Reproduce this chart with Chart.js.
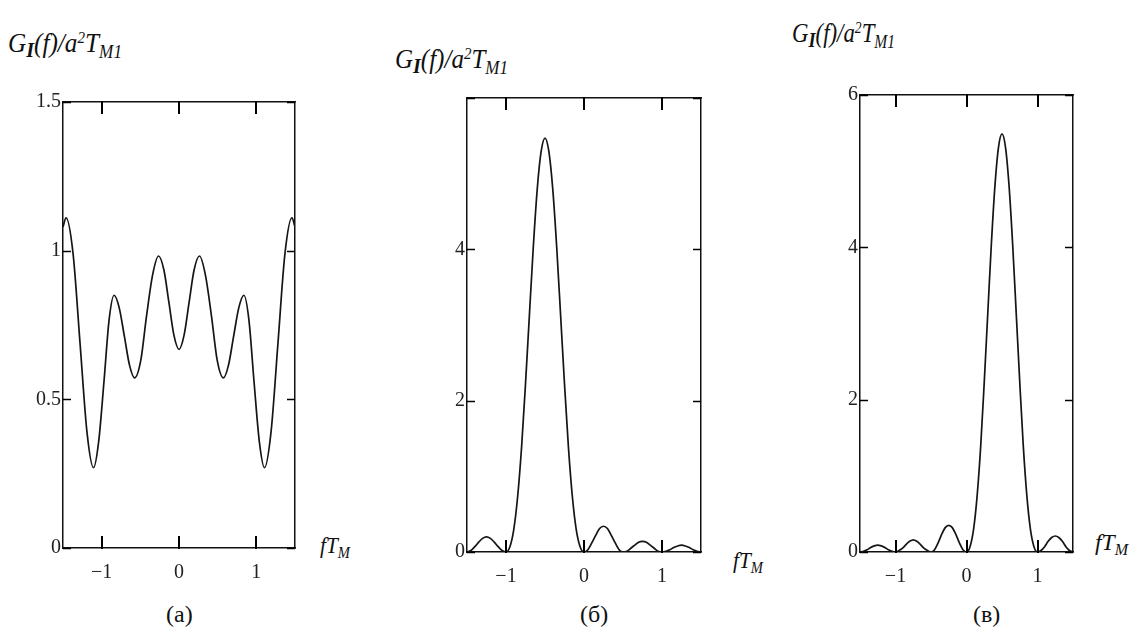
<!DOCTYPE html>
<html><head><meta charset="utf-8">
<script src="https://cdn.jsdelivr.net/npm/chart.js@4.4.0/dist/chart.umd.min.js"></script>
<style>
body{margin:0;background:#fff;width:1136px;height:627px;position:relative;overflow:hidden;font-family:'Liberation Serif','Times New Roman',serif;color:#111;}
canvas{position:absolute;}
.t{position:absolute;white-space:nowrap;line-height:1;transform-origin:0 0;}
.title{font-style:italic;font-size:27px;}
.sub{font-size:0.68em;position:relative;top:0.3em;}
.subI{font-size:0.8em;position:relative;top:0.25em;font-weight:bold;}
.sup{font-size:0.6em;position:relative;top:-0.55em;}
.ax{font-style:italic;font-size:24px;}
.cap{font-size:24px;}
</style>
</head><body>
<div class="t title" data-w="114" style="left:8px;top:30px">G<span class="subI">I</span>(f)/a<span class="sup">2</span>T<span class="sub">M1</span></div>
<div class="t title" data-w="113" style="left:395px;top:46px">G<span class="subI">I</span>(f)/a<span class="sup">2</span>T<span class="sub">M1</span></div>
<div class="t title" data-w="103" style="left:792px;top:20px">G<span class="subI">I</span>(f)/a<span class="sup">2</span>T<span class="sub">M1</span></div>
<div class="t ax" data-w="30" style="left:320px;top:533px">fT<span class="sub">M</span></div>
<div class="t ax" data-w="30" style="left:733px;top:548px">fT<span class="sub">M</span></div>
<div class="t ax" data-w="33" style="left:1095px;top:530px">fT<span class="sub">M</span></div>
<div class="t cap" style="left:166px;top:602px">(a)</div>
<div class="t cap" style="left:580px;top:602px">(б)</div>
<div class="t cap" style="left:973px;top:602px">(в)</div>
<canvas id="cA"></canvas>
<canvas id="cB"></canvas>
<canvas id="cV"></canvas>
<script>
// ---- data ----
const fA = [-1.5, -1.46, -1.37, -1.28, -1.19, -1.105, -1.04, -0.97, -0.905, -0.84, -0.775, -0.705, -0.64, -0.575, -0.495, -0.42, -0.34, -0.265, -0.195, -0.13, -0.065, 0, 0.065, 0.13, 0.195, 0.265, 0.34, 0.42, 0.495, 0.575, 0.64, 0.705, 0.775, 0.84, 0.905, 0.97, 1.04, 1.105, 1.19, 1.28, 1.37, 1.46, 1.5];
const gA = [1.08, 1.11, 0.99, 0.69, 0.39, 0.27, 0.355, 0.56, 0.765, 0.85, 0.81, 0.71, 0.615, 0.572, 0.63, 0.78, 0.92, 0.982, 0.935, 0.825, 0.715, 0.668, 0.715, 0.825, 0.935, 0.982, 0.92, 0.78, 0.63, 0.572, 0.615, 0.71, 0.81, 0.85, 0.765, 0.56, 0.355, 0.27, 0.39, 0.69, 0.99, 1.11, 1.08];

const fBV = [-1.5, -1.45, -1.4, -1.35, -1.3, -1.25, -1.2, -1.15, -1.1, -1.05, -1.0, -0.95, -0.9, -0.85, -0.8, -0.75, -0.7, -0.65, -0.6, -0.55, -0.5, -0.45, -0.4, -0.35, -0.3, -0.25, -0.2, -0.15, -0.1, -0.05, 0, 0.05, 0.1, 0.15, 0.2, 0.25, 0.3, 0.35, 0.4, 0.45, 0.5, 0.55, 0.6, 0.65, 0.7, 0.75, 0.8, 0.85, 0.9, 0.95, 1.0, 1.05, 1.1, 1.15, 1.2, 1.25, 1.3, 1.35, 1.4, 1.45, 1.5];
const gB = [0, 0.02, 0.07, 0.13, 0.18, 0.20, 0.18, 0.13, 0.07, 0.02, 0, 0.07, 0.30, 0.74, 1.39, 2.22, 3.13, 4.03, 4.79, 5.29, 5.47, 5.29, 4.79, 4.03, 3.13, 2.22, 1.39, 0.74, 0.30, 0.07, 0, 0.03, 0.12, 0.22, 0.31, 0.34, 0.31, 0.22, 0.12, 0.03, 0, 0.01, 0.05, 0.09, 0.13, 0.14, 0.13, 0.09, 0.05, 0.01, 0, 0.01, 0.03, 0.06, 0.08, 0.09, 0.08, 0.06, 0.03, 0.01, 0];
const gV = [0, 0.01, 0.03, 0.06, 0.08, 0.09, 0.08, 0.06, 0.03, 0.01, 0, 0.02, 0.05, 0.10, 0.14, 0.16, 0.14, 0.10, 0.05, 0.02, 0, 0.03, 0.12, 0.23, 0.32, 0.35, 0.32, 0.23, 0.12, 0.03, 0, 0.07, 0.30, 0.74, 1.39, 2.23, 3.14, 4.04, 4.80, 5.31, 5.49, 5.31, 4.80, 4.04, 3.14, 2.23, 1.39, 0.74, 0.30, 0.07, 0, 0.02, 0.07, 0.14, 0.19, 0.21, 0.19, 0.14, 0.07, 0.02, 0];

const xRange = [-1.5, 1.5];
const xTicks = [-1, 0, 1];
const xTickLabels = ['\u22121', '0', '1'];
const yRangeA = [0, 1.5];
const yTicksA = [0, 0.5, 1, 1.5];
const yLabelsA = ['0', '0.5', '1', '1.5'];
const yRangeBV = [0, 6];
const yTicksBV = [0, 2, 4, 6];
const yLabelsB = ['0', '2', '4', ''];
const yLabelsV = ['0', '2', '4', '6'];

// ---- layout ----
const PADL = 70, PADR = 40, PADT = 25, PADB = 50;
const XTICKLEN = 12, YTICKLEN = 8;

function fixed(prop, v) { return function (s) { s[prop] = v; }; }
function setTicks(vals) { return function (s) { s.ticks = vals.map(v => ({ value: v })); }; }

// inward tick marks on all four sides, placed through the chart's own scales
const inwardTicks = {
  id: 'inwardTicks',
  afterDraw(chart) {
    const ctx = chart.ctx, a = chart.chartArea;
    const sx = chart.scales.x, sy = chart.scales.y;
    ctx.save();
    ctx.strokeStyle = '#000';
    ctx.lineWidth = 2;
    xTicks.forEach(v => {
      const p = Math.round(sx.getPixelForValue(v));
      ctx.beginPath();
      ctx.moveTo(p, a.bottom + 1); ctx.lineTo(p, a.bottom - XTICKLEN);
      ctx.stroke();
      ctx.beginPath();
      ctx.moveTo(p, a.top - 1); ctx.lineTo(p, a.top + XTICKLEN);
      ctx.stroke();
    });
    ctx.lineWidth = 1.5;
    sy.ticks.forEach(t => {
      const p = Math.round(sy.getPixelForValue(t.value)) + 0.5;
      ctx.beginPath();
      ctx.moveTo(a.left, p); ctx.lineTo(a.left + YTICKLEN, p);
      ctx.moveTo(a.right, p); ctx.lineTo(a.right - YTICKLEN, p);
      ctx.stroke();
    });
    ctx.restore();
  }
};

function makePanel(id, box, f, g, yRange, yTicks, yLabels) {
  const cv = document.getElementById(id);
  const W = box.r - box.l + PADL + PADR;
  const H = box.b - box.t + PADT + PADB;
  cv.width = W; cv.height = H;
  cv.style.left = (box.l - PADL) + 'px';
  cv.style.top = (box.t - PADT) + 'px';
  const border = { display: true, color: '#111', width: 1.5 };
  const grid = { display: false, drawTicks: false };
  const font = { family: "'Liberation Serif','Times New Roman',serif", size: 20 };
  new Chart(cv, {
    type: 'line',
    data: { datasets: [{ data: f.map((x, i) => ({ x: x, y: g[i] })), borderColor: '#151515', borderWidth: 1.7, pointRadius: 0, cubicInterpolationMode: 'monotone', fill: false }] },
    options: {
      responsive: false, animation: false, events: [],
      layout: { padding: 0 },
      plugins: { legend: { display: false }, tooltip: { enabled: false }, title: { display: false } },
      scales: {
        x: { type: 'linear', position: 'bottom', min: xRange[0], max: xRange[1], border: border, grid: grid,
             afterBuildTicks: setTicks(xTicks), afterFit: fixed('height', PADB),
             ticks: { font: font, color: '#222', padding: 13, maxRotation: 0, autoSkip: false, callback: (v, i) => xTickLabels[i] } },
        x2: { type: 'linear', position: 'top', min: xRange[0], max: xRange[1], border: border, grid: grid,
             afterBuildTicks: setTicks(xTicks), afterFit: fixed('height', PADT), ticks: { display: false } },
        y: { type: 'linear', position: 'left', min: yRange[0], max: yRange[1], border: border, grid: grid,
             afterBuildTicks: setTicks(yTicks), afterFit: fixed('width', PADL),
             ticks: { font: font, color: '#222', padding: 2, autoSkip: false, callback: (v, i) => yLabels[i] } },
        y2: { type: 'linear', position: 'right', min: yRange[0], max: yRange[1], border: border, grid: grid,
             afterBuildTicks: setTicks(yTicks), afterFit: fixed('width', PADR), ticks: { display: false } }
      }
    },
    plugins: [inwardTicks]
  });
}

makePanel('cA', { l: 63, r: 295, t: 102, b: 548 }, fA, gA, yRangeA, yTicksA, yLabelsA);
makePanel('cB', { l: 467, r: 701, t: 98, b: 552 }, fBV, gB, yRangeBV, yTicksBV, yLabelsB);
makePanel('cV', { l: 860, r: 1073, t: 95, b: 552 }, fBV, gV, yRangeBV, yTicksBV, yLabelsV);

// squeeze the text labels to the widths seen in the reference
document.querySelectorAll('[data-w]').forEach(el => {
  const w = el.getBoundingClientRect().width;
  el.style.transform = 'scaleX(' + (parseFloat(el.dataset.w) / w).toFixed(3) + ')';
});
</script>
</body></html>
